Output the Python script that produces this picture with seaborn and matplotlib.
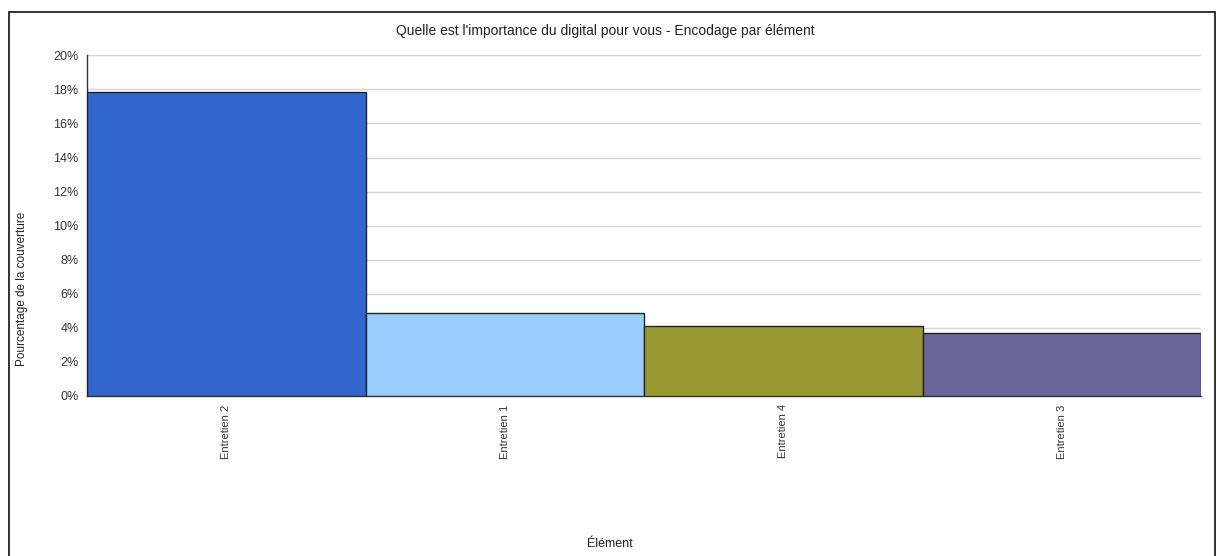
import matplotlib
matplotlib.use("Agg")
import matplotlib.pyplot as plt
from matplotlib.patches import Rectangle
from matplotlib.ticker import PercentFormatter, MultipleLocator
import seaborn as sns
import pandas as pd

# Coverage share per interview, in percent
categories = ["Entretien 2", "Entretien 1", "Entretien 4", "Entretien 3"]
values = [17.83, 4.86, 4.11, 3.68]
colors = ["#3366CC", "#99CCFF", "#999933", "#666699"]

title = "Quelle est l'importance du digital pour vous - Encodage par élément"
ylabel = "Pourcentage de la couverture"
xlabel = "Élément"

sns.set_theme(style="white")
plt.rcParams["font.family"] = ["Liberation Sans", "DejaVu Sans"]

W, H = 1219, 556
fig = plt.figure(figsize=(W / 100, H / 100), dpi=100)
ax = fig.add_axes([87 / W, 1 - 396 / H, (1201 - 87) / W, (396 - 55.3) / H])

df = pd.DataFrame({"cat": categories, "val": values})
sns.barplot(data=df, x="cat", y="val", hue="cat", palette=colors, legend=False,
            saturation=1, width=1.0, edgecolor="#222222", linewidth=1.0,
            ax=ax, zorder=3)

ax.set_xlim(-0.5, len(categories) - 0.5)
ax.set_ylim(0, 20)
ax.yaxis.set_major_locator(MultipleLocator(2))
ax.yaxis.set_major_formatter(PercentFormatter(decimals=0))
ax.grid(axis="y", color="#d4d4d4", linewidth=1.0, zorder=0)
ax.grid(axis="x", visible=False)

for side in ["top", "right"]:
    ax.spines[side].set_visible(False)
ax.spines["left"].set_color("#333333")
ax.spines["bottom"].set_color("#333333")
ax.spines["left"].set_linewidth(1.0)
ax.spines["bottom"].set_linewidth(1.0)

ax.tick_params(axis="y", labelsize=9, colors="#333333", length=0, pad=6)
ax.tick_params(axis="x", labelsize=8, colors="#333333", length=0, pad=6,
               labelrotation=90)
for lbl in ax.get_yticklabels() + ax.get_xticklabels():
    lbl.set_color("#333333")

ax.set_xlabel("")
ax.set_ylabel("")
fig.text(605 / W, 1 - 31 / H, title, ha="center", va="center",
         fontsize=10, color="#222222")
fig.text(22 / W, 1 - 289 / H, ylabel, ha="center", va="center",
         rotation=90, fontsize=8.5, color="#222222")
fig.text(610 / W, 1 - 544 / H, xlabel, ha="center", va="center",
         fontsize=9, color="#222222")

# Outer frame around the chart area
fig.patches.append(Rectangle((8.5 / W, -0.05), (1215 - 8.5) / W, 1.05 - 12.5 / H,
                             transform=fig.transFigure, fill=False,
                             edgecolor="#111111", linewidth=1.2))

fig.savefig("out.png", dpi=100)
